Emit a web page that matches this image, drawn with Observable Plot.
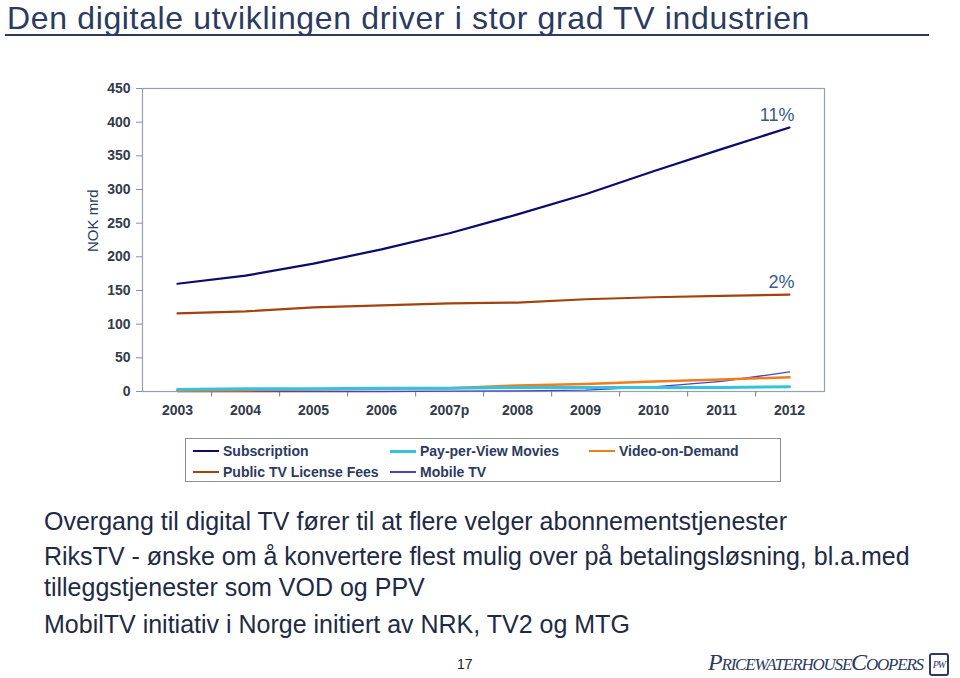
<!DOCTYPE html>
<html>
<head>
<meta charset="utf-8">
<script src="https://cdn.jsdelivr.net/npm/d3@7"></script>
<script src="https://cdn.jsdelivr.net/npm/@observablehq/plot@0.6"></script>
<style>
  html, body { margin: 0; padding: 0; background: #fff; }
  #page { position: relative; width: 960px; height: 678px; overflow: hidden; font-family: "Liberation Sans", Arial, sans-serif; }
  #title { position: absolute; left: 7px; top: 1px; line-height: 34px; font-size: 32px; color: #2b3a5e; white-space: nowrap; letter-spacing: 0.65px; }
  #rule { position: absolute; left: 5px; top: 34px; width: 924px; height: 0; border-top: 2.5px solid #2b3a5e; }
  #chart { position: absolute; left: 0; top: 60px; }
  #ylabel { position: absolute; left: 80px; top: 240px; transform: translate(0,-50%) rotate(-90deg); transform-origin: center; font-size: 15px; color: #2b3a5e; white-space: nowrap; width: 24px; text-align: center; }
  #legend { position: absolute; left: 185px; top: 438px; width: 596px; height: 44px; border: 1.5px solid #8a8f99; box-sizing: border-box; }
  .li { position: absolute; display: flex; align-items: center; font-size: 14px; font-weight: bold; color: #2b3a5e; white-space: nowrap; }
  .li span.sw { display: inline-block; width: 26px; height: 0; margin-right: 4px; }
  .body { position: absolute; left: 44px; font-size: 25px; line-height: 28px; color: #1f2a44; white-space: nowrap; }
  #pg { position: absolute; left: 457px; top: 656px; font-size: 14px; color: #222; }
  #logo { position: absolute; left: 708px; top: 648px; font-size: 24px; line-height: 28px; font-style: italic; font-variant: small-caps; color: #2b3a5e; white-space: nowrap; letter-spacing: -1.2px; font-family: "Liberation Serif", serif; }
  #logo .ic { display:inline-block; width: 16px; height: 19px; border: 2px solid #2b3a5e; border-radius: 3px; vertical-align: middle; margin-left: 6px; font-size: 10px; text-align:center; line-height: 19px; font-style: italic; letter-spacing: -1px; }
</style>
</head>
<body>
<div id="page">
  <div id="title">Den digitale utviklingen driver i stor grad TV industrien</div>
  <div id="rule"></div>
  <div id="chart"></div>
  <div id="ylabel">NOK mrd</div>
  <div id="legend"></div>
  <div class="body" style="top:507px">Overgang til digital TV fører til at flere velger abonnementstjenester</div>
  <div class="body" style="top:542px">RiksTV - ønske om å konvertere flest mulig over på betalingsløsning, bl.a.med</div>
  <div class="body" style="top:573px">tilleggstjenester som VOD og PPV</div>
  <div class="body" style="top:610px">MobilTV initiativ i Norge initiert av NRK, TV2 og MTG</div>
  <div id="pg">17</div>
  <div id="logo">PricewaterhouseCoopers<span class="ic">PW</span></div>
</div>
<script>
// ---- data ----
const years = ["2003","2004","2005","2006","2007p","2008","2009","2010","2011","2012"];
const subscription = [160, 172, 190, 211, 235, 263, 293, 327, 360, 392];
const publicTV     = [116, 119, 125, 128, 131, 132, 137, 140, 142, 144];
const ppv          = [3, 4, 4, 5, 5, 6, 6, 6, 6, 7];
const vod          = [1, 2, 3, 4, 5, 9, 11, 15, 18, 21];
const mobileTV     = [0, 0, 0, 0, 0.5, 1, 2, 7, 15, 29];
const seriesNames  = ["Subscription", "Pay-per-View Movies", "Video-on-Demand", "Public TV License Fees", "Mobile TV"];
const seriesColors = ["#0b0b6b", "#33c3dc", "#f07c1c", "#a3420d", "#4a42c8"];
const seriesWidths = [2.2, 3, 2.5, 2.2, 1.3];
const yTicks = [0, 50, 100, 150, 200, 250, 300, 350, 400, 450];
const annoLabels = ["11%", "2%"];
const annoSeries = ["Subscription", "Public TV License Fees"];

const valuesByName = {
  "Subscription": subscription,
  "Pay-per-View Movies": ppv,
  "Video-on-Demand": vod,
  "Public TV License Fees": publicTV,
  "Mobile TV": mobileTV
};
const drawOrder = ["Mobile TV", "Video-on-Demand", "Pay-per-View Movies", "Public TV License Fees", "Subscription"];
const rows = [];
for (const name of drawOrder) {
  valuesByName[name].forEach((v, i) => rows.push({name, year: years[i], value: v}));
}
const anno = annoLabels.map((t, k) => ({label: t, year: years[years.length - 1], value: valuesByName[annoSeries[k]][years.length - 1]}));

const W = 960, mL = 142, mR = 136, mT = 28, mB = 30, H = 361;
const step = (W - mL - mR) / years.length;

const marks = [
  Plot.frame({stroke: "#9aa0a8", strokeWidth: 1.2}),
  Plot.axisY({ticks: yTicks, tickSize: 6, tickPadding: 6, fontWeight: "bold", fontSize: 14, stroke: "#8a8f99", color: "#333a4a", label: null}),
  Plot.axisX({tickSize: 0, tickPadding: 14, fontWeight: "bold", fontSize: 14, color: "#333a4a", label: null}),
  Plot.ruleX(years.slice(0, -1), {x: d => d, dx: step / 2, y1: 0, y2: -8, stroke: "#8a8f99", strokeWidth: 1.2}),
];
for (const name of drawOrder) {
  const idx = seriesNames.indexOf(name);
  marks.push(Plot.line(rows.filter(r => r.name === name), {
    x: "year", y: "value", stroke: seriesColors[idx], strokeWidth: seriesWidths[idx], curve: "linear"
  }));
}
marks.push(Plot.text(anno, {x: "year", y: "value", text: "label", textAnchor: "end", dx: 5, dy: -12, fontSize: 18, fill: "#3a5a8a"}));

const chart = Plot.plot({
  width: W, height: H,
  marginLeft: mL, marginRight: mR, marginTop: mT, marginBottom: mB,
  style: {fontFamily: "'Liberation Sans', Arial, sans-serif", background: "transparent"},
  x: {type: "point", domain: years, padding: 0.5, label: null},
  y: {domain: [0, 450], label: null},
  marks
});
document.getElementById("chart").appendChild(chart);

const legend = document.getElementById("legend");
const pos = [[7, 4], [204, 4], [403, 4], [7, 25], [204, 25]];
seriesNames.forEach((n, i) => {
  const d = document.createElement("div");
  d.className = "li";
  d.style.left = pos[i][0] + "px";
  d.style.top = pos[i][1] + "px";
  d.innerHTML = `<span class="sw" style="border-top:${Math.max(2, seriesWidths[i])}px solid ${seriesColors[i]}"></span>${n}`;
  legend.appendChild(d);
});
</script>
</body>
</html>
